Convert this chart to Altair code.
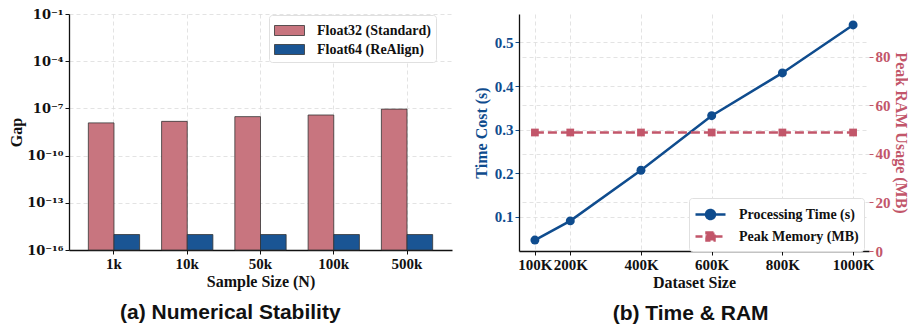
import altair as alt
import pandas as pd

# ---------------- data (a) ----------------
sizes = ["1k", "10k", "50k", "100k", "500k"]
methods = ["Float32 (Standard)", "Float64 (ReAlign)"]
gap_f32 = [1.2e-8, 1.5e-8, 3.0e-8, 3.8e-8, 9.0e-8]
gap_f64 = [9.6e-16, 9.6e-16, 9.6e-16, 9.6e-16, 9.6e-16]
gap_ticks = [1e-16, 1e-13, 1e-10, 1e-7, 1e-4, 1e-1]
gap_tick_text = ["10⁻¹⁶", "10⁻¹³", "10⁻¹⁰", "10⁻⁷", "10⁻⁴", "10⁻¹"]

# ---------------- data (b) ----------------
ds_k = [100, 200, 400, 600, 800, 1000]
time_s = [0.047, 0.091, 0.207, 0.332, 0.430, 0.540]
mem_mb = [48.8, 48.8, 48.8, 48.8, 48.8, 48.8]
series = ["Processing Time (s)", "Peak Memory (MB)"]

PINK = "#C8757F"
BLUE = "#1A5594"
LBLUE = "#0F4C8E"
RED = "#C2566A"
SERIF = "Liberation Serif"
SANS = "Liberation Sans"
GRID = "#dcdcdc"

rows = []
for s, a, b in zip(sizes, gap_f32, gap_f64):
    rows.append({"size": s, "method": methods[0], "gap": a, "base": 1e-16})
    rows.append({"size": s, "method": methods[1], "gap": b, "base": 1e-16})
df_a = pd.DataFrame(rows)

label_expr = ""
for i, (t, txt) in enumerate(zip(gap_ticks, gap_tick_text)):
    if i < len(gap_ticks) - 1:
        label_expr += f"datum.value < {t * 3} ? '{txt}' : "
    else:
        label_expr += f"'{txt}'"

axis_common = dict(
    labelFont=SERIF, labelFontWeight="bold", labelFontSize=15, labelColor="#111",
    titleFont=SERIF, titleFontWeight="bold", titleFontSize=16, titleColor="#111",
    domainColor="#111", domainWidth=1.3, tickColor="#111", tickSize=4,
    gridColor=GRID, gridDash=[4, 3], gridWidth=0.8, labelPadding=2,
)
axis_gap = dict(axis_common)
axis_gap.update(labelFont="DejaVu Serif", labelFontSize=13)

caption_kw = dict(orient="bottom", font=SANS, fontSize=21, fontWeight="bold",
                  color="#111", offset=13, frame="bounds", anchor="middle")

left = alt.Chart(df_a).mark_bar(stroke="#333", strokeWidth=0.8).encode(
    x=alt.X("size:N", sort=sizes,
            scale=alt.Scale(paddingInner=0.3, paddingOuter=0.264),
            axis=alt.Axis(title="Sample Size (N)", labelAngle=0, grid=True,
                          titlePadding=2, **axis_common)),
    xOffset=alt.XOffset("method:N", sort=methods, scale=alt.Scale(paddingInner=0, paddingOuter=0)),
    y=alt.Y("gap:Q",
            scale=alt.Scale(type="log", domain=[1e-16, 1e-1], nice=False),
            axis=alt.Axis(title="Gap", values=gap_ticks, labelExpr=label_expr, grid=True,
                          titlePadding=2, **axis_gap)),
    y2="base:Q",
    color=alt.Color("method:N",
                    scale=alt.Scale(domain=methods, range=[PINK, BLUE]),
                    legend=alt.Legend(title=None, orient="none", legendX=200, legendY=1,
                                      fillColor="white", strokeColor="#e0e0e0",
                                      padding=5, cornerRadius=3,
                                      symbolType="M-1,-0.5H2V0.5H-1Z", symbolSize=400,
                                      symbolStrokeColor="#333", symbolStrokeWidth=0.8,
                                      labelOffset=22, rowPadding=1,
                                      labelFont=SERIF, labelFontWeight="bold", labelFontSize=14,
                                      labelColor="#111")),
).properties(
    width=383, height=236,
    title=alt.TitleParams("(a) Numerical Stability", **caption_kw),
)

# ---------------- panel b ----------------
df_b = pd.DataFrame({"k": ds_k, "time": time_s, "mem": mem_mb})

xb = alt.X("k:Q", scale=alt.Scale(domain=[55, 1045], nice=False, zero=False),
           axis=alt.Axis(title="Dataset Size", values=ds_k, labelExpr="datum.value + 'K'",
                         labelOverlap=False, labelFlush=False, labelBound=False, grid=True,
                         titlePadding=2, **axis_common))

ax_left = dict(axis_common)
ax_left.update(labelColor=LBLUE, titleColor=LBLUE, tickColor=LBLUE)
ax_right = dict(axis_common)
ax_right.update(labelColor=RED, titleColor=RED, tickColor=RED)

y_time = alt.Y("time:Q", scale=alt.Scale(domain=[0.022, 0.565], nice=False, zero=False),
               axis=alt.Axis(title="Time Cost (s)", values=[0.1, 0.2, 0.3, 0.4, 0.5], format=".1f",
                             grid=True, titlePadding=5, **ax_left))
y_mem = alt.Y("mem:Q", scale=alt.Scale(domain=[0, 97.6], nice=False, zero=True),
              axis=alt.Axis(title="Peak RAM Usage (MB)", orient="right", values=[0, 20, 40, 60, 80],
                            grid=True, domain=False, titlePadding=2, **ax_right))

base_b = alt.Chart(df_b)
time_layer = alt.layer(
    base_b.mark_line(color=LBLUE, strokeWidth=2.5).encode(x=xb, y=y_time),
    base_b.mark_point(filled=True, size=80, color=LBLUE, opacity=1).encode(x=xb, y=y_time),
)
mem_layer = alt.layer(
    base_b.mark_line(color=RED, strokeWidth=2.5, strokeDash=[9, 4]).encode(x=xb, y=y_mem),
    base_b.mark_point(filled=True, shape="square", size=60, color=RED, opacity=1).encode(x=xb, y=y_mem),
)

shape_paths = [
    "M-1,0H2M0.05,0A0.45,0.45,0,1,0,0.95,0A0.45,0.45,0,1,0,0.05,0Z",
    "M-1,0H2M0.1,-0.4H0.9V0.4H0.1Z",
]
leg_df = pd.DataFrame({"series": series})
legend_kw = dict(title=None, orient="none", legendX=170, legendY=184,
                 fillColor="white", strokeColor="#e0e0e0", padding=5, cornerRadius=3,
                 symbolSize=400, symbolStrokeWidth=2.5, labelOffset=22, rowPadding=1,
                 labelFont=SERIF, labelFontWeight="bold", labelFontSize=14, labelColor="#111")
legend_layer = alt.Chart(leg_df).transform_filter("false").mark_point(
    filled=True, opacity=1, size=400, strokeWidth=2.5).encode(
    fill=alt.Fill("series:N", scale=alt.Scale(domain=series, range=[LBLUE, RED]),
                  legend=alt.Legend(**legend_kw)),
    stroke=alt.Stroke("series:N", scale=alt.Scale(domain=series, range=[LBLUE, RED]),
                      legend=alt.Legend(**legend_kw)),
    shape=alt.Shape("series:N", scale=alt.Scale(domain=series, range=shape_paths),
                    legend=alt.Legend(**legend_kw)),
    strokeDash=alt.StrokeDash("series:N", scale=alt.Scale(domain=series, range=[[1, 0], [7, 3]]),
                              legend=alt.Legend(**legend_kw)),
)

right = alt.layer(time_layer, mem_layer, legend_layer).resolve_scale(y="independent").properties(
    width=350, height=237,
    title=alt.TitleParams("(b) Time & RAM", **caption_kw),
)

chart = alt.hconcat(left, right, spacing=21).resolve_scale(
    color="independent", fill="independent", stroke="independent",
    shape="independent", strokeDash="independent",
).resolve_legend(
    color="independent", fill="independent", stroke="independent",
    shape="independent", strokeDash="independent",
).properties(
    padding={"left": 0, "top": 0, "right": 0, "bottom": 0}
).configure_view(stroke=None)

chart.save("out.html", embed_options={"renderer": "svg", "actions": False})
